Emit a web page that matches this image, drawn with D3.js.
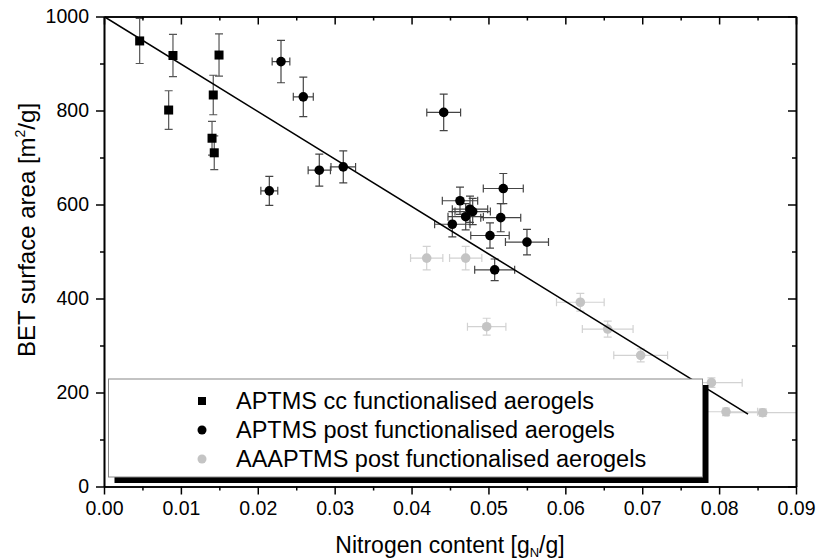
<!DOCTYPE html>
<html>
<head>
<meta charset="utf-8">
<script src="https://cdn.jsdelivr.net/npm/d3@7"></script>
<style>
  body { margin: 0; background: #fff; }
  svg { display: block; font-family: "Liberation Sans", Arial, sans-serif; }
</style>
</head>
<body>
<div id="wrapper"></div>
<script>
// data: [nitrogen g_N/g, BET m2/g, nitrogen error, BET error]
const aptmsCc = [
  [0.00464, 948, 0, 48],
  [0.00897, 917, 0, 45],
  [0.00841, 801, 0, 41],
  [0.01496, 918, 0, 45],
  [0.01421, 833, 0, 42],
  [0.01405, 741, 0, 36],
  [0.01434, 710, 0, 36],
]
const aptmsPost = [
  [0.02302, 904, 0.00115, 45],
  [0.02592, 829, 0.0013, 42],
  [0.0280, 673, 0.00145, 34],
  [0.03112, 680, 0.0016, 34],
  [0.0215, 629, 0.0011, 31],
  [0.04418, 796, 0.0022, 39],
  [0.05193, 634, 0.0026, 32],
  [0.0463, 608, 0.0023, 29],
  [0.0476, 590, 0.0023, 28],
  [0.04795, 585, 0.0023, 28],
  [0.04704, 574, 0.0023, 28],
  [0.0516, 572, 0.0026, 30],
  [0.0453, 558, 0.0023, 27],
  [0.0502, 534, 0.0025, 27],
  [0.05501, 520, 0.0028, 27],
  [0.05081, 461, 0.0026, 23],
]
const aaaptmsPost = [
  [0.04197, 486, 0.0021, 25],
  [0.04704, 486, 0.0021, 25],
  [0.04977, 340, 0.0025, 18],
  [0.06195, 392, 0.0031, 19],
  [0.06551, 335, 0.0033, 17],
  [0.0698, 279, 0.0035, 14],
  [0.0790, 221, 0.004, 10],
  [0.0809, 159, 0.0041, 8],
  [0.08567, 157, 0.0045, 8],
]
const fitLine = [[0, 1000], [0.08376, 154]]

const xTicks = [0, 0.01, 0.02, 0.03, 0.04, 0.05, 0.06, 0.07, 0.08, 0.09]
const xMinorTicks = [0.005, 0.015, 0.025, 0.035, 0.045, 0.055, 0.065, 0.075, 0.085]
const yTicks = [0, 200, 400, 600, 800, 1000]
const yMinorTicks = [100, 300, 500, 700, 900]
const legendLabels = [
  "APTMS cc functionalised aerogels",
  "APTMS post functionalised aerogels",
  "AAAPTMS post functionalised aerogels",
]

function drawChart() {
  const xAccessor = d => d[0]
  const yAccessor = d => d[1]

  let dimensions = {
    width: 816,
    height: 560,
    margin: {
      top: 16.5,
      right: 20,
      bottom: 73.5,
      left: 104,
    },
  }
  dimensions.boundedWidth = dimensions.width - dimensions.margin.left - dimensions.margin.right
  dimensions.boundedHeight = dimensions.height - dimensions.margin.top - dimensions.margin.bottom

  const wrapper = d3.select("#wrapper")
    .append("svg")
      .attr("width", dimensions.width)
      .attr("height", dimensions.height)

  const bounds = wrapper.append("g")
      .attr("transform", `translate(${dimensions.margin.left}, ${dimensions.margin.top})`)

  wrapper.append("defs").append("clipPath")
      .attr("id", "plot-clip")
    .append("rect")
      .attr("width", dimensions.boundedWidth)
      .attr("height", dimensions.boundedHeight)

  // scales
  const xScale = d3.scaleLinear()
    .domain([0, 0.09])
    .range([0, dimensions.boundedWidth])

  const yScale = d3.scaleLinear()
    .domain([0, 1000])
    .range([dimensions.boundedHeight, 0])

  const series = [
    { data: aptmsCc, shape: "square", color: "#000", errColor: "#555" },
    { data: aptmsPost, shape: "circle", color: "#000", errColor: "#444" },
    { data: aaaptmsPost, shape: "circle", color: "#c4c4c4", errColor: "#d2d2d2" },
  ]

  const plot = bounds.append("g")
      .attr("clip-path", "url(#plot-clip)")

  // error bars
  const cap = 4
  series.forEach(s => {
    const g = plot.append("g")
        .attr("stroke", s.errColor)
        .attr("stroke-width", 1.2)
        .attr("fill", "none")
    s.data.forEach(d => {
      const cx = xScale(xAccessor(d))
      const cy = yScale(yAccessor(d))
      if (d[3] > 0) {
        const y0 = yScale(d[1] - d[3])
        const y1 = yScale(d[1] + d[3])
        g.append("path")
            .attr("d", `M${cx},${y0}V${y1}M${cx - cap},${y0}H${cx + cap}M${cx - cap},${y1}H${cx + cap}`)
      }
      if (d[2] > 0) {
        const x0 = xScale(d[0] - d[2])
        const x1 = xScale(d[0] + d[2])
        g.append("path")
            .attr("d", `M${x0},${cy}H${x1}M${x0},${cy - cap}V${cy + cap}M${x1},${cy - cap}V${cy + cap}`)
      }
    })
  })

  // points
  series.forEach(s => {
    if (s.shape === "square") {
      plot.append("g").selectAll("rect")
        .data(s.data)
        .join("rect")
          .attr("x", d => xScale(xAccessor(d)) - 4.5)
          .attr("y", d => yScale(yAccessor(d)) - 4.5)
          .attr("width", 9)
          .attr("height", 9)
          .attr("fill", s.color)
    } else {
      plot.append("g").selectAll("circle")
        .data(s.data)
        .join("circle")
          .attr("cx", d => xScale(xAccessor(d)))
          .attr("cy", d => yScale(yAccessor(d)))
          .attr("r", 4.8)
          .attr("fill", s.color)
    }
  })

  // linear fit
  const lineGenerator = d3.line()
    .x(d => xScale(xAccessor(d)))
    .y(d => yScale(yAccessor(d)))

  plot.append("path")
      .attr("d", lineGenerator(fitLine))
      .attr("fill", "none")
      .attr("stroke", "#000")
      .attr("stroke-width", 1.6)

  // axes
  const styleAxis = axis => {
    axis.select(".domain").attr("stroke-width", 1.6)
    axis.selectAll(".tick line").attr("stroke-width", 1.5)
    axis.selectAll(".tick text")
        .attr("font-size", 19.5)
        .attr("font-family", "Liberation Sans, Arial, sans-serif")
        .attr("fill", "#000")
  }

  const xAxis = bounds.append("g")
      .attr("transform", `translate(0, ${dimensions.boundedHeight})`)
      .call(d3.axisBottom(xScale).tickValues(xTicks).tickSize(8).tickSizeOuter(0)
        .tickPadding(7).tickFormat(d3.format(".2f")))
  styleAxis(xAxis)
  const xMinor = bounds.append("g")
      .attr("transform", `translate(0, ${dimensions.boundedHeight})`)
      .call(d3.axisBottom(xScale).tickValues(xMinorTicks).tickSize(4).tickSizeOuter(0).tickFormat(""))
  styleAxis(xMinor)

  const yAxis = bounds.append("g")
      .call(d3.axisLeft(yScale).tickValues(yTicks).tickSize(8).tickSizeOuter(0)
        .tickPadding(7).tickFormat(d3.format("d")))
  styleAxis(yAxis)
  const yMinor = bounds.append("g")
      .call(d3.axisLeft(yScale).tickValues(yMinorTicks).tickSize(4).tickSizeOuter(0).tickFormat(""))
  styleAxis(yMinor)

  const topAxis = bounds.append("g")
      .call(d3.axisTop(xScale).tickValues(xTicks).tickSize(-8).tickSizeOuter(0).tickFormat(""))
  styleAxis(topAxis)
  const topMinor = bounds.append("g")
      .call(d3.axisTop(xScale).tickValues(xMinorTicks).tickSize(-4).tickSizeOuter(0).tickFormat(""))
  styleAxis(topMinor)

  const rightAxis = bounds.append("g")
      .attr("transform", `translate(${dimensions.boundedWidth}, 0)`)
      .call(d3.axisRight(yScale).tickValues(yTicks).tickSize(-8).tickSizeOuter(0).tickFormat(""))
  styleAxis(rightAxis)
  const rightMinor = bounds.append("g")
      .attr("transform", `translate(${dimensions.boundedWidth}, 0)`)
      .call(d3.axisRight(yScale).tickValues(yMinorTicks).tickSize(-4).tickSizeOuter(0).tickFormat(""))
  styleAxis(rightMinor)

  // axis labels
  const xLabel = wrapper.append("text")
      .attr("x", 450)
      .attr("y", 553)
      .attr("text-anchor", "middle")
      .attr("font-size", 23)
  xLabel.append("tspan").text("Nitrogen content [g")
  xLabel.append("tspan").attr("font-size", 13).attr("dy", 3.5).text("N")
  xLabel.append("tspan").attr("dy", -3.5).text("/g]")

  const yLabel = wrapper.append("text")
      .attr("transform", "translate(35, 230) rotate(-90)")
      .attr("text-anchor", "middle")
      .attr("font-size", 24)
  yLabel.append("tspan").text("BET surface area [m")
  yLabel.append("tspan").attr("font-size", 14).attr("dy", -10).text("2")
  yLabel.append("tspan").attr("dy", 10).text("/g]")

  // legend
  const legend = wrapper.append("g")
  const box = { x: 108.5, y: 379, width: 594, height: 98 }
  legend.append("rect")
      .attr("x", box.x + 6)
      .attr("y", box.y + 6)
      .attr("width", box.width)
      .attr("height", box.height)
      .attr("fill", "#000")
  legend.append("rect")
      .attr("x", box.x)
      .attr("y", box.y)
      .attr("width", box.width)
      .attr("height", box.height)
      .attr("fill", "#fff")
      .attr("stroke", "#888")
      .attr("stroke-width", 1)

  const rows = legend.selectAll(".legend-row")
    .data(legendLabels)
    .join("g")
      .attr("class", "legend-row")
      .attr("transform", (d, i) => `translate(202, ${401 + i * 29})`)

  rows.each(function (d, i) {
    const row = d3.select(this)
    const s = series[i]
    if (s.shape === "square") {
      row.append("rect").attr("x", -4).attr("y", -4).attr("width", 8).attr("height", 8).attr("fill", s.color)
    } else {
      row.append("circle").attr("r", 4.5).attr("fill", s.color)
    }
    row.append("text")
        .attr("x", 34)
        .attr("dy", "0.36em")
        .attr("font-size", 23.5)
        .text(d)
  })
}
drawChart()
</script>
</body>
</html>
